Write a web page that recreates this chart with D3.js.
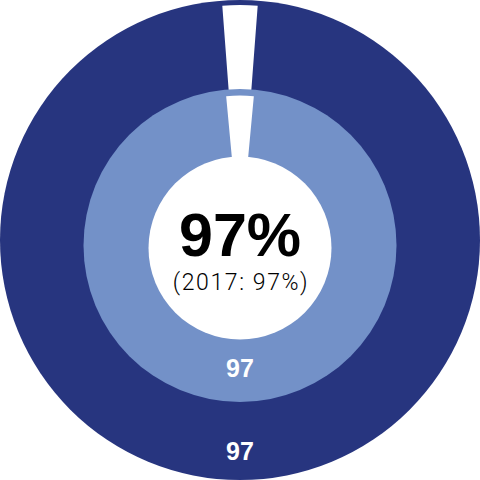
<!DOCTYPE html>
<html>
<head>
<meta charset="utf-8">
<script src="https://cdn.jsdelivr.net/npm/d3@7"></script>
<style>
  html, body { margin: 0; padding: 0; background: #ffffff; }
  svg { display: block; }
</style>
</head>
<body>
<svg id="chart" width="480" height="480"></svg>
<script>
// ---- data ----
const ringNames = ["outer", "inner"];
const ringValues = [97, 97];          // percent shown in each ring
const ringTotal = 100;
const centerLabel = "97%";
const priorLabel = "(2017: 97%)";

// ---- styling ----
const ringColors = ["#27357f", "#7391c8"];
const BOLD_FONT = "'Liberation Sans', Arial, sans-serif";
const LIGHT_FONT = "Roboto, sans-serif";

const svg = d3.select("#chart");

// geometry per ring (radii / centre offsets)
const geo = [
  { cx: 240, cy: 240, r0: 0, r1: 240, gapIn: 150, gapOut: 235, gapScale: 0.8, labelR: 211 },
  { cx: 240, cy: 245.5, r0: 0, r1: 156.5, gapIn: 80, gapOut: 150, gapScale: 0.98, labelR: 122 }
];

const pie = d3.pie().sort(null).value(d => d);

ringValues.forEach((v, i) => {
  const g = geo[i];
  const gapFrac = (ringTotal - v) / ringTotal;
  const a0 = gapFrac * Math.PI; // half of gap angle
  const slices = pie.startAngle(a0).endAngle(a0 + 2 * Math.PI)([v, ringTotal - v]);

  const grp = svg.append("g").attr("transform", `translate(${g.cx},${g.cy})`);

  grp.append("path")
    .attr("d", d3.arc().innerRadius(g.r0).outerRadius(g.r1)({ startAngle: 0, endAngle: 2 * Math.PI }))
    .attr("fill", ringColors[i]);

  const gap = slices[1];
  const mid = (gap.startAngle + gap.endAngle) / 2;
  const half = (gap.endAngle - gap.startAngle) / 2 * g.gapScale;
  grp.append("path")
    .attr("d", d3.arc().innerRadius(g.gapIn).outerRadius(g.gapOut)({ startAngle: mid - half, endAngle: mid + half }))
    .attr("fill", "#ffffff");
});

// white centre
const cc = { cx: 240, cy: 248, r: 91.5 };
svg.append("circle")
  .attr("cx", cc.cx).attr("cy", cc.cy).attr("r", cc.r)
  .attr("fill", "#ffffff");

// ring value labels
ringValues.forEach((v, i) => {
  const g = geo[i];
  svg.append("text")
    .attr("x", g.cx)
    .attr("y", g.cy + g.labelR + 9)
    .attr("text-anchor", "middle")
    .attr("font-family", BOLD_FONT)
    .attr("font-weight", 700)
    .attr("font-size", 25)
    .attr("fill", "#ffffff")
    .text(v);
});

// centre labels
svg.append("text")
  .attr("x", 240).attr("y", 256)
  .attr("text-anchor", "middle")
  .attr("font-family", BOLD_FONT)
  .attr("font-weight", 700)
  .attr("font-size", 61)
  .attr("fill", "#000000")
  .text(centerLabel);

svg.append("text")
  .attr("x", 241).attr("y", 290)
  .attr("text-anchor", "middle")
  .attr("font-family", LIGHT_FONT)
  .attr("font-weight", 300)
  .attr("font-size", 23)
  .attr("letter-spacing", 1.6)
  .attr("fill", "#000000")
  .text(priorLabel);
</script>
</body>
</html>
